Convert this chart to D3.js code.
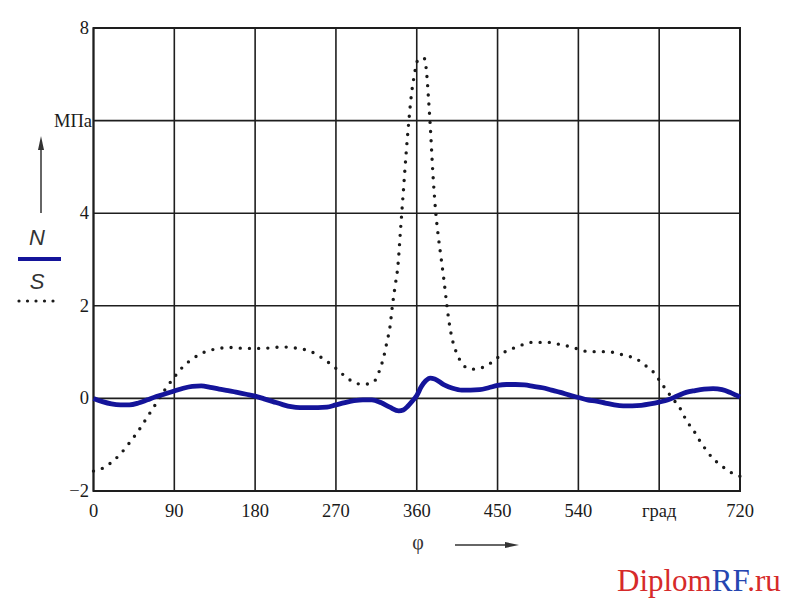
<!DOCTYPE html>
<html><head><meta charset="utf-8">
<script src="https://cdn.jsdelivr.net/npm/d3@7"></script>
<style>body{margin:0;background:#fff}</style>
</head><body>
<svg id="c" width="796" height="600"></svg>
<script>
const phiN = [0,10,20,30,40,50,60,70,80,90,100,110,120,130,140,150,160,170,180,190,200,210,220,230,240,250,260,270,280,290,300,310,320,330,340,345,350,355,360,365,370,375,380,390,400,410,420,430,440,450,460,470,480,490,500,510,520,530,540,550,560,570,580,590,600,610,620,630,640,650,660,670,680,690,700,710,720];
const valN = [0.0,-0.07,-0.12,-0.14,-0.14,-0.10,-0.03,0.04,0.10,0.16,0.22,0.26,0.27,0.24,0.20,0.17,0.13,0.09,0.05,-0.01,-0.07,-0.13,-0.18,-0.20,-0.20,-0.20,-0.19,-0.14,-0.09,-0.05,-0.03,-0.03,-0.09,-0.19,-0.27,-0.25,-0.17,-0.06,0.06,0.25,0.38,0.44,0.42,0.30,0.22,0.18,0.18,0.19,0.23,0.28,0.30,0.30,0.29,0.26,0.23,0.18,0.13,0.07,0.02,-0.03,-0.06,-0.10,-0.14,-0.16,-0.16,-0.15,-0.12,-0.08,-0.03,0.05,0.13,0.17,0.20,0.21,0.19,0.12,0.03];
const phiS = [0,10,20,30,40,50,60,70,80,90,100,110,120,130,140,150,160,170,180,190,200,210,220,230,240,250,260,270,280,290,300,310,315,319,323,327,330,333,336,339,342,345,348,351,354,357,361,365,369.5,370.5,371.5,373,375,378,381,384,387,390,393,396,400,404,408,415,425,436,447,457,467,478,488,499,509,520,530,541,551,562,572,582,593,604,614,624,632,639,647,655,660,668,674,681,689,699,710,720];
const valS = [-1.57,-1.51,-1.38,-1.20,-0.96,-0.70,-0.40,-0.10,0.20,0.46,0.69,0.85,0.97,1.04,1.08,1.10,1.09,1.08,1.08,1.08,1.10,1.11,1.10,1.07,1.03,0.93,0.80,0.65,0.48,0.35,0.30,0.34,0.43,0.63,0.88,1.24,1.52,2.02,2.44,2.86,3.66,4.45,5.25,5.95,6.55,6.95,7.30,7.35,7.33,7.12,6.92,6.50,5.90,4.85,4.05,3.50,3.05,2.60,2.10,1.65,1.24,1.00,0.83,0.67,0.63,0.69,0.83,0.99,1.08,1.16,1.21,1.21,1.21,1.16,1.12,1.06,1.01,1.01,1.01,0.98,0.92,0.86,0.72,0.56,0.34,0.15,-0.05,-0.27,-0.47,-0.68,-0.88,-1.08,-1.28,-1.45,-1.60,-1.68];
const xTicks = [0,90,180,270,360,450,540,630,720];
const xTickLabels = ["0","90","180","270","360","450","540","град","720"];
const yTicks = [-2,0,2,4,6,8];
const yTickLabels = ["\u22122","0","2","4","МПа","8"];

const svg = d3.select("#c");
const x = d3.scaleLinear().domain([0,720]).range([93.5,740]);
const y = d3.scaleLinear().domain([-2,8]).range([491,28]);
const serif = "'Liberation Serif','Times New Roman',serif";

// grid
const g = svg.append("g");
g.selectAll("line.v").data(xTicks).join("line")
  .attr("x1",d=>x(d)).attr("x2",d=>x(d)).attr("y1",y(-2)).attr("y2",y(8))
  .attr("stroke","#1e1e1e").attr("stroke-width",1.6);
g.selectAll("line.h").data(yTicks).join("line")
  .attr("y1",d=>y(d)).attr("y2",d=>y(d)).attr("x1",x(0)).attr("x2",x(720))
  .attr("stroke","#1e1e1e").attr("stroke-width",1.6);
g.append("rect").attr("x",x(0)).attr("y",y(8)).attr("width",x(720)-x(0)).attr("height",y(-2)-y(8))
  .attr("fill","none").attr("stroke","#1e1e1e").attr("stroke-width",2);

// tick labels
svg.selectAll("text.xt").data(xTicks).join("text")
  .attr("x",d=>x(d)).attr("y",517).attr("text-anchor","middle")
  .attr("font-family",serif).attr("font-size",18.5).attr("fill","#1a1a1a")
  .text((d,i)=>xTickLabels[i]);
svg.selectAll("text.yt").data(yTicks).join("text")
  .attr("x",(d,i)=> yTickLabels[i]==="МПа" ? 92 : 89)
  .attr("y",d=>y(d)+6).attr("text-anchor","end")
  .attr("font-family",serif).attr("font-size",18.5).attr("fill","#1a1a1a")
  .text((d,i)=>yTickLabels[i]);

// series
const lineGen = d3.line().x(d=>x(d[0])).y(d=>y(d[1])).curve(d3.curveMonotoneX);
svg.append("path").datum(phiS.map((p,i)=>[p,valS[i]]))
  .attr("d",lineGen).attr("fill","none").attr("stroke","#1a1a1a")
  .attr("stroke-width",3.4).attr("stroke-linecap","round").attr("stroke-dasharray","0 9.2");
svg.append("path").datum(phiN.map((p,i)=>[p,valN[i]]))
  .attr("d",lineGen).attr("fill","none").attr("stroke","#14149a")
  .attr("stroke-width",4.8).attr("stroke-linejoin","round");

// legend / y-axis arrow
svg.append("line").attr("x1",41).attr("x2",41).attr("y1",213).attr("y2",142)
  .attr("stroke","#333").attr("stroke-width",1.5);
svg.append("path").attr("d","M41,136 L38,150 L44,150 Z").attr("fill","#333");
svg.append("text").attr("x",37).attr("y",245).attr("text-anchor","middle")
  .attr("font-family","'Liberation Sans',Arial,sans-serif").attr("font-style","italic")
  .attr("font-size",22).attr("fill","#333").text("N");
svg.append("line").attr("x1",18).attr("x2",61).attr("y1",259).attr("y2",259)
  .attr("stroke","#14149a").attr("stroke-width",4);
svg.append("text").attr("x",37).attr("y",289).attr("text-anchor","middle")
  .attr("font-family","'Liberation Sans',Arial,sans-serif").attr("font-style","italic")
  .attr("font-size",22).attr("fill","#333").text("S");
svg.append("line").attr("x1",19).attr("x2",58).attr("y1",301).attr("y2",301)
  .attr("stroke","#1a1a1a").attr("stroke-width",3.2).attr("stroke-linecap","round").attr("stroke-dasharray","0 8.5");

// x axis label
svg.append("text").attr("x",418).attr("y",549).attr("text-anchor","middle")
  .attr("font-family",serif).attr("font-size",20).attr("fill","#333").text("φ");
svg.append("line").attr("x1",455).attr("x2",512).attr("y1",545).attr("y2",545)
  .attr("stroke","#333").attr("stroke-width",1.5);
svg.append("path").attr("d","M519,545 L505,542 L505,548 Z").attr("fill","#333");

// watermark
const wm = svg.append("text").attr("x",617).attr("y",591)
  .attr("font-family",serif).attr("font-size",31);
wm.append("tspan").attr("fill","#d62a2a").text("Diplom");
wm.append("tspan").attr("fill","#2546b0").text("RF");
wm.append("tspan").attr("fill","#d62a2a").text(".ru");
</script>
</body></html>
